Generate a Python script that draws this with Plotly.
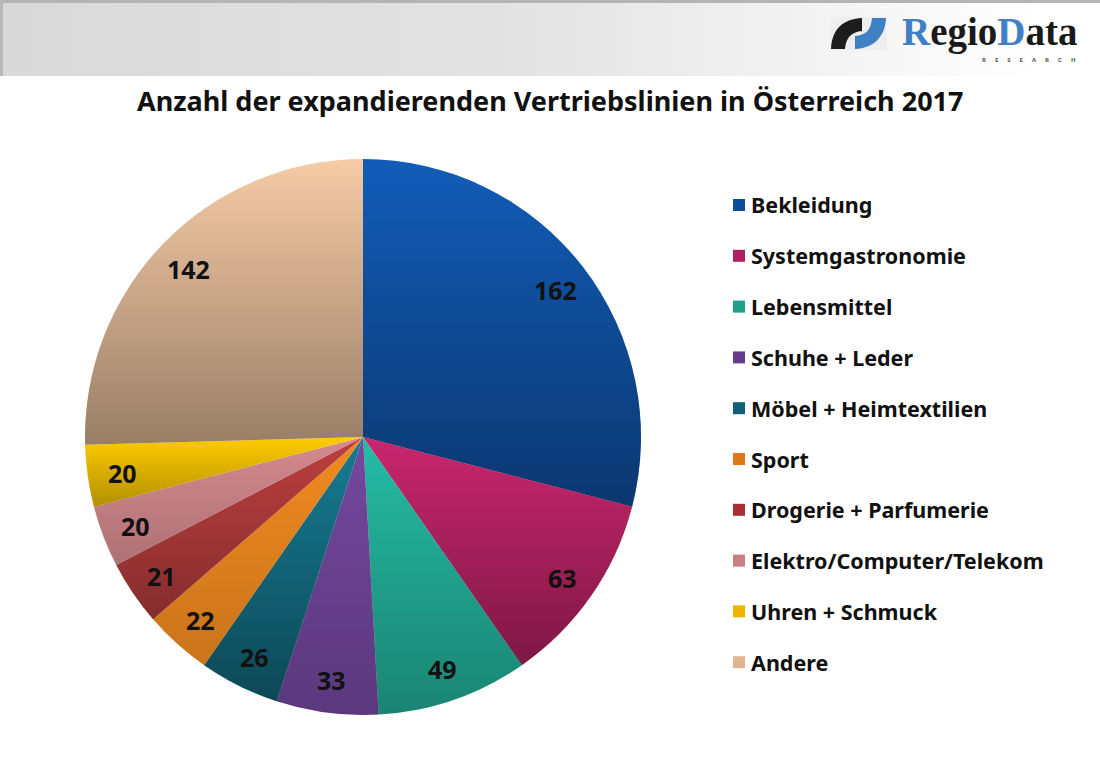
import base64
import math
import plotly.graph_objects as go

categories = ['Bekleidung', 'Systemgastronomie', 'Lebensmittel', 'Schuhe + Leder',
              'Möbel + Heimtextilien', 'Sport', 'Drogerie + Parfumerie',
              'Elektro/Computer/Telekom', 'Uhren + Schmuck', 'Andere']
values = [162, 63, 49, 33, 26, 22, 21, 20, 20, 142]
colors = ['#125cb8', '#c9266e', '#25bca4', '#74489f', '#167c94',
          '#f08a20', '#bd3f40', '#d48a8f', '#ffcc00', '#f6cba6']
legend_colors = ['#0f4c9c', '#b01f60', '#1fa08c', '#643d8c', '#0f6078',
                 '#e07818', '#a82e34', '#c87f84', '#efb400', '#dfb596']
shade = [0.40, 0.38, 0.30, 0.22, 0.42, 0.16, 0.30, 0.18, 0.30, 0.38]

W, H = 1100, 761
CX, CY, R = 363, 437, 278


def svg_uri(svg):
    return 'data:image/svg+xml;base64,' + base64.b64encode(svg.encode()).decode()


def pt(angle, r=R):
    return CX + r * math.sin(angle), CY - r * math.cos(angle)


# plotly pies have no gradient, so each slice gets a dark fade laid over it
total = sum(values)
defs, paths, mids = '', '', []
a = 0
for i, v in enumerate(values):
    b = a + v / total * 2 * math.pi
    mids.append((a + b) / 2)
    x0, y0 = pt(a)
    x1, y1 = pt(b)
    large = 1 if b - a > math.pi else 0
    defs += (f'<linearGradient id="g{i}" x1="0" y1="0" x2="0" y2="1">'
             f'<stop offset="0" stop-color="#000" stop-opacity="0"/>'
             f'<stop offset="1" stop-color="#000" stop-opacity="{shade[i]}"/></linearGradient>')
    paths += (f'<path d="M{CX} {CY}L{x0:.2f} {y0:.2f}A{R} {R} 0 {large} 1 {x1:.2f} {y1:.2f}Z" '
              f'fill="url(#g{i})"/>')
    a = b

logo_paths = ('<rect x="831" y="17" width="56" height="33" fill="#eeeeee"/>'
              '<path d="M831 49 C832 28 844 19 862 18 L862 31 C851 32 846 38 845 49 Z" fill="#1c1c1c"/>'
              '<path d="M886 18 C885 38 873 48 855 49 L855 36 C866 35 871 30 872 18 Z" fill="#3f7fc4"/>')

overlay_svg = (f'<svg xmlns="http://www.w3.org/2000/svg" width="{W}" height="{H}" '
               f'viewBox="0 0 {W} {H}"><defs>{defs}</defs>{paths}{logo_paths}</svg>')

header_svg = (f'<svg xmlns="http://www.w3.org/2000/svg" width="{W}" height="{H}" viewBox="0 0 {W} {H}">'
              '<defs><linearGradient id="h"><stop offset="0" stop-color="#d9d9d9"/>'
              '<stop offset="0.45" stop-color="#e2e2e2"/><stop offset="0.95" stop-color="#ffffff"/>'
              '</linearGradient></defs>'
              '<rect x="0" y="0" width="1100" height="76" fill="url(#h)"/>'
              '<rect x="0" y="0" width="1100" height="3" fill="#b4b4b4"/>'
              '<rect x="0" y="0" width="3" height="76" fill="#b8b8b8"/></svg>')

fig = go.Figure(go.Pie(
    labels=categories,
    values=values,
    sort=False,
    direction='clockwise',
    rotation=0,
    textinfo='none',
    marker=dict(colors=colors, line=dict(width=0)),
    domain=dict(x=[(CX - R) / W, (CX + R) / W], y=[1 - (CY + R) / H, 1 - (CY - R) / H]),
    showlegend=False,
))

font = 'Noto Sans'
ann = []


def text(x, y, s, size, anchor='left', family=font, color='#111111'):
    ann.append(dict(x=x / W, y=1 - y / H, xref='paper', yref='paper', text=s, showarrow=False,
                    xanchor=anchor, yanchor='middle', align=anchor,
                    font=dict(family=family, size=size, color=color)))


text(549.5, 101, '<b>Anzahl der expandierenden Vertriebslinien in Österreich 2017</b>', 27, 'center')

# value labels sit at a fixed share of the radius, on each slice's mid angle
for v, m in zip(values, mids):
    x, y = pt(m, R * 0.875)
    text(x, y + 2, f'<b>{v}</b>', 25, 'center')

shapes = []
legend_top = 205
legend_step = 50.8
for i, (c, col) in enumerate(zip(categories, legend_colors)):
    y = legend_top + i * legend_step
    shapes.append(dict(type='rect', xref='paper', yref='paper', x0=733 / W, x1=745 / W,
                       y0=1 - (y + 6) / H, y1=1 - (y - 6) / H, fillcolor=col, line=dict(width=0)))
    text(749, y, f'<b>{c}</b>', 21.5)

blue = '#3f7fc4'
text(900, 32, f'<b><span style="color:{blue}">R</span>egio<span style="color:{blue}">D</span>ata</b>',
     39, family='Liberation Serif', color='#1a1a1a')
text(1078, 60, '<b>' + '\u2003\u2002'.join('RESEARCH') + '</b>', 6, 'right', color='#555555')

full = dict(xref='paper', yref='paper', x=0, y=1, sizex=1, sizey=1,
            xanchor='left', yanchor='top', sizing='stretch')
fig.update_layout(
    width=W, height=H,
    margin=dict(l=0, r=0, t=0, b=0),
    paper_bgcolor='#ffffff',
    annotations=ann,
    shapes=shapes,
    images=[
        dict(source=svg_uri(header_svg), layer='below', **full),
        dict(source=svg_uri(overlay_svg), layer='above', **full),
    ],
)

fig.write_html('out.html', post_script="document.body.style.margin='0';",
               config={'displayModeBar': False})
